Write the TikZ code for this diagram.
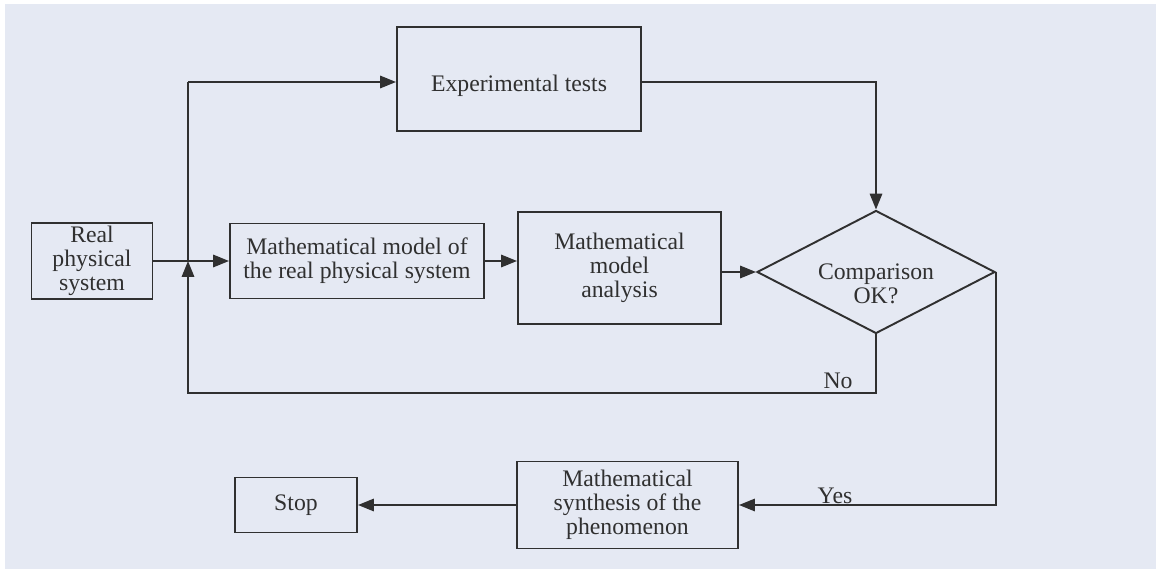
\documentclass[tikz,border=0pt]{standalone}
\usepackage{fontspec}
\setmainfont{Liberation Serif}
\usepackage{tikz}
\usetikzlibrary{positioning,arrows.meta,calc,shapes.geometric}
\definecolor{papelFondo}{HTML}{E5E9F3}
\definecolor{tintaTrazo}{HTML}{303030}
\begin{document}
\begin{tikzpicture}[
        caja/.style={rectangle, draw=tintaTrazo, line width=1.1pt, align=center,
            text=tintaTrazo, font=\fontsize{13.5}{13.5}\selectfont, inner sep=2pt},
        rombo/.style={diamond, draw=tintaTrazo, line width=1.1pt, align=center, aspect=1.93,
            inner sep=0pt, text=tintaTrazo, font=\fontsize{13.5}{13.5}\selectfont},
        flecha/.style={-{Triangle[length=9pt, width=7pt]}, draw=tintaTrazo, line width=1.1pt},
        linea/.style={draw=tintaTrazo, line width=1.1pt},
        etiqueta/.style={font=\fontsize{13.5}{13.5}\selectfont, text=tintaTrazo}
    ]
        % page and background
        \useasboundingbox (0, 0) rectangle (23.12, 11.42);
        \fill[white] (0, 0) rectangle (23.12, 11.42);
        \fill[papelFondo] (0.1, 0.04) rectangle (23.12, 11.34);

        \node[caja, minimum width=2.42cm, minimum height=1.52cm] (real) at (1.84, 6.2) {Real\\physical\\system};
        \node[caja, minimum width=5.08cm, minimum height=1.5cm] (modelo) at (7.14, 6.2) {Mathematical model of\\the real physical system};
        \node[caja, minimum width=4.06cm, minimum height=2.24cm] (analisis) at (12.39, 6.06) {Mathematical\\model\\analysis};
        \node[caja, minimum width=4.88cm, minimum height=2.08cm] (ensayos) at (10.38, 9.84) {\rule{0pt}{17.5pt}Experimental tests};
        \node[rombo, minimum width=4.76cm, minimum height=2.46cm] (comparacion) at (17.52, 5.98) {\rule{0pt}{22pt}Comparison\\OK?};
        \node[caja, minimum width=4.42cm, minimum height=1.74cm] (sintesis) at (12.55, 1.32) {Mathematical\\synthesis of the\\phenomenon};
        \node[caja, minimum width=2.44cm, minimum height=1.1cm] (parada) at (5.92, 1.32) {Stop};

        \coordinate (nudo) at (3.76, 6.2);

        \draw[flecha] (real.east) -- (modelo.west);
        \draw[linea] (nudo) -- (3.76, 9.78) coordinate (esquina);
        \draw[flecha] (esquina) -- (esquina -| ensayos.west);
        \draw[flecha] (modelo.east) -- (modelo.east -| analisis.west);
        \draw[flecha] (analisis.east |- comparacion.west) -- (comparacion.west);
        \draw[flecha] (ensayos.east |- esquina) -| (comparacion.north);

        % feedback when the comparison fails
        \draw[flecha] (comparacion.south) |- (3.76, 3.56) -- (nudo);
        \node[etiqueta] (no) at (16.76, 3.8) {No};

        \draw[flecha] (comparacion.east) |- (sintesis.east);
        \node[etiqueta] (si) at (16.7, 1.5) {Yes};

        \draw[flecha] (sintesis.west) -- (parada.east);
    \end{tikzpicture}
\end{document}
